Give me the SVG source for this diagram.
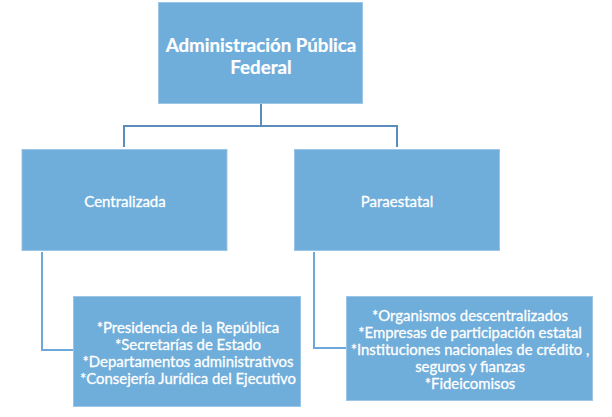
<svg xmlns="http://www.w3.org/2000/svg" width="612" height="417" viewBox="0 0 612 417">
<style>
.box{fill:#6FADDA;stroke:#9CC6E8;stroke-width:1}
.t{font-family:Lato,"Liberation Sans",sans-serif;fill:#ffffff;text-anchor:middle;stroke:#ffffff;stroke-width:0.3px}
.title{font-size:18.7px;font-weight:bold;stroke-width:0.2px}
.mid{font-size:15px}
.list{font-size:14.9px}
.c1{fill:none;stroke:#5A8DBE;stroke-width:2}
.c2{fill:none;stroke:#6FA8D8;stroke-width:2}
</style>
<rect width="612" height="417" fill="#ffffff"/>
<g id="connectors">
<path class="c1" d="M261 104 V126 M124 126 H397 M124 125 V147 M397 125 V147"/>
<path class="c2" d="M42 252 V350 H73"/>
<path class="c2" d="M314 252 V348 H346"/>
</g>
<g id="n-apf">
<rect class="box" x="158.5" y="2.5" width="204" height="101"/>
<text class="t title" x="261" y="52">Administración Pública</text>
<text class="t title" x="261" y="74">Federal</text>
</g>
<g id="n-centralizada">
<rect class="box" x="22" y="149.5" width="205" height="101"/>
<text class="t mid" x="125" y="207">Centralizada</text>
</g>
<g id="n-paraestatal">
<rect class="box" x="294.5" y="149.5" width="205" height="101"/>
<text class="t mid" x="397" y="207">Paraestatal</text>
</g>
<g id="n-centralizada-list">
<rect class="box" x="73.5" y="296.5" width="227" height="110"/>
<text class="t list" x="188" y="333">*Presidencia de la República</text>
<text class="t list" x="188" y="350">*Secretarías de Estado</text>
<text class="t list" x="188" y="367">*Departamentos administrativos</text>
<text class="t list" x="188" y="384">*Consejería Jurídica del Ejecutivo</text>
</g>
<g id="n-paraestatal-list">
<rect class="box" x="346.5" y="296.5" width="246" height="104"/>
<text class="t list" x="470" y="321">*Organismos descentralizados</text>
<text class="t list" x="470" y="338">*Empresas de participación estatal</text>
<text class="t list" x="470" y="355">*Instituciones nacionales de crédito ,</text>
<text class="t list" x="470" y="372">seguros y fianzas</text>
<text class="t list" x="470" y="389">*Fideicomisos</text>
</g>
</svg>
